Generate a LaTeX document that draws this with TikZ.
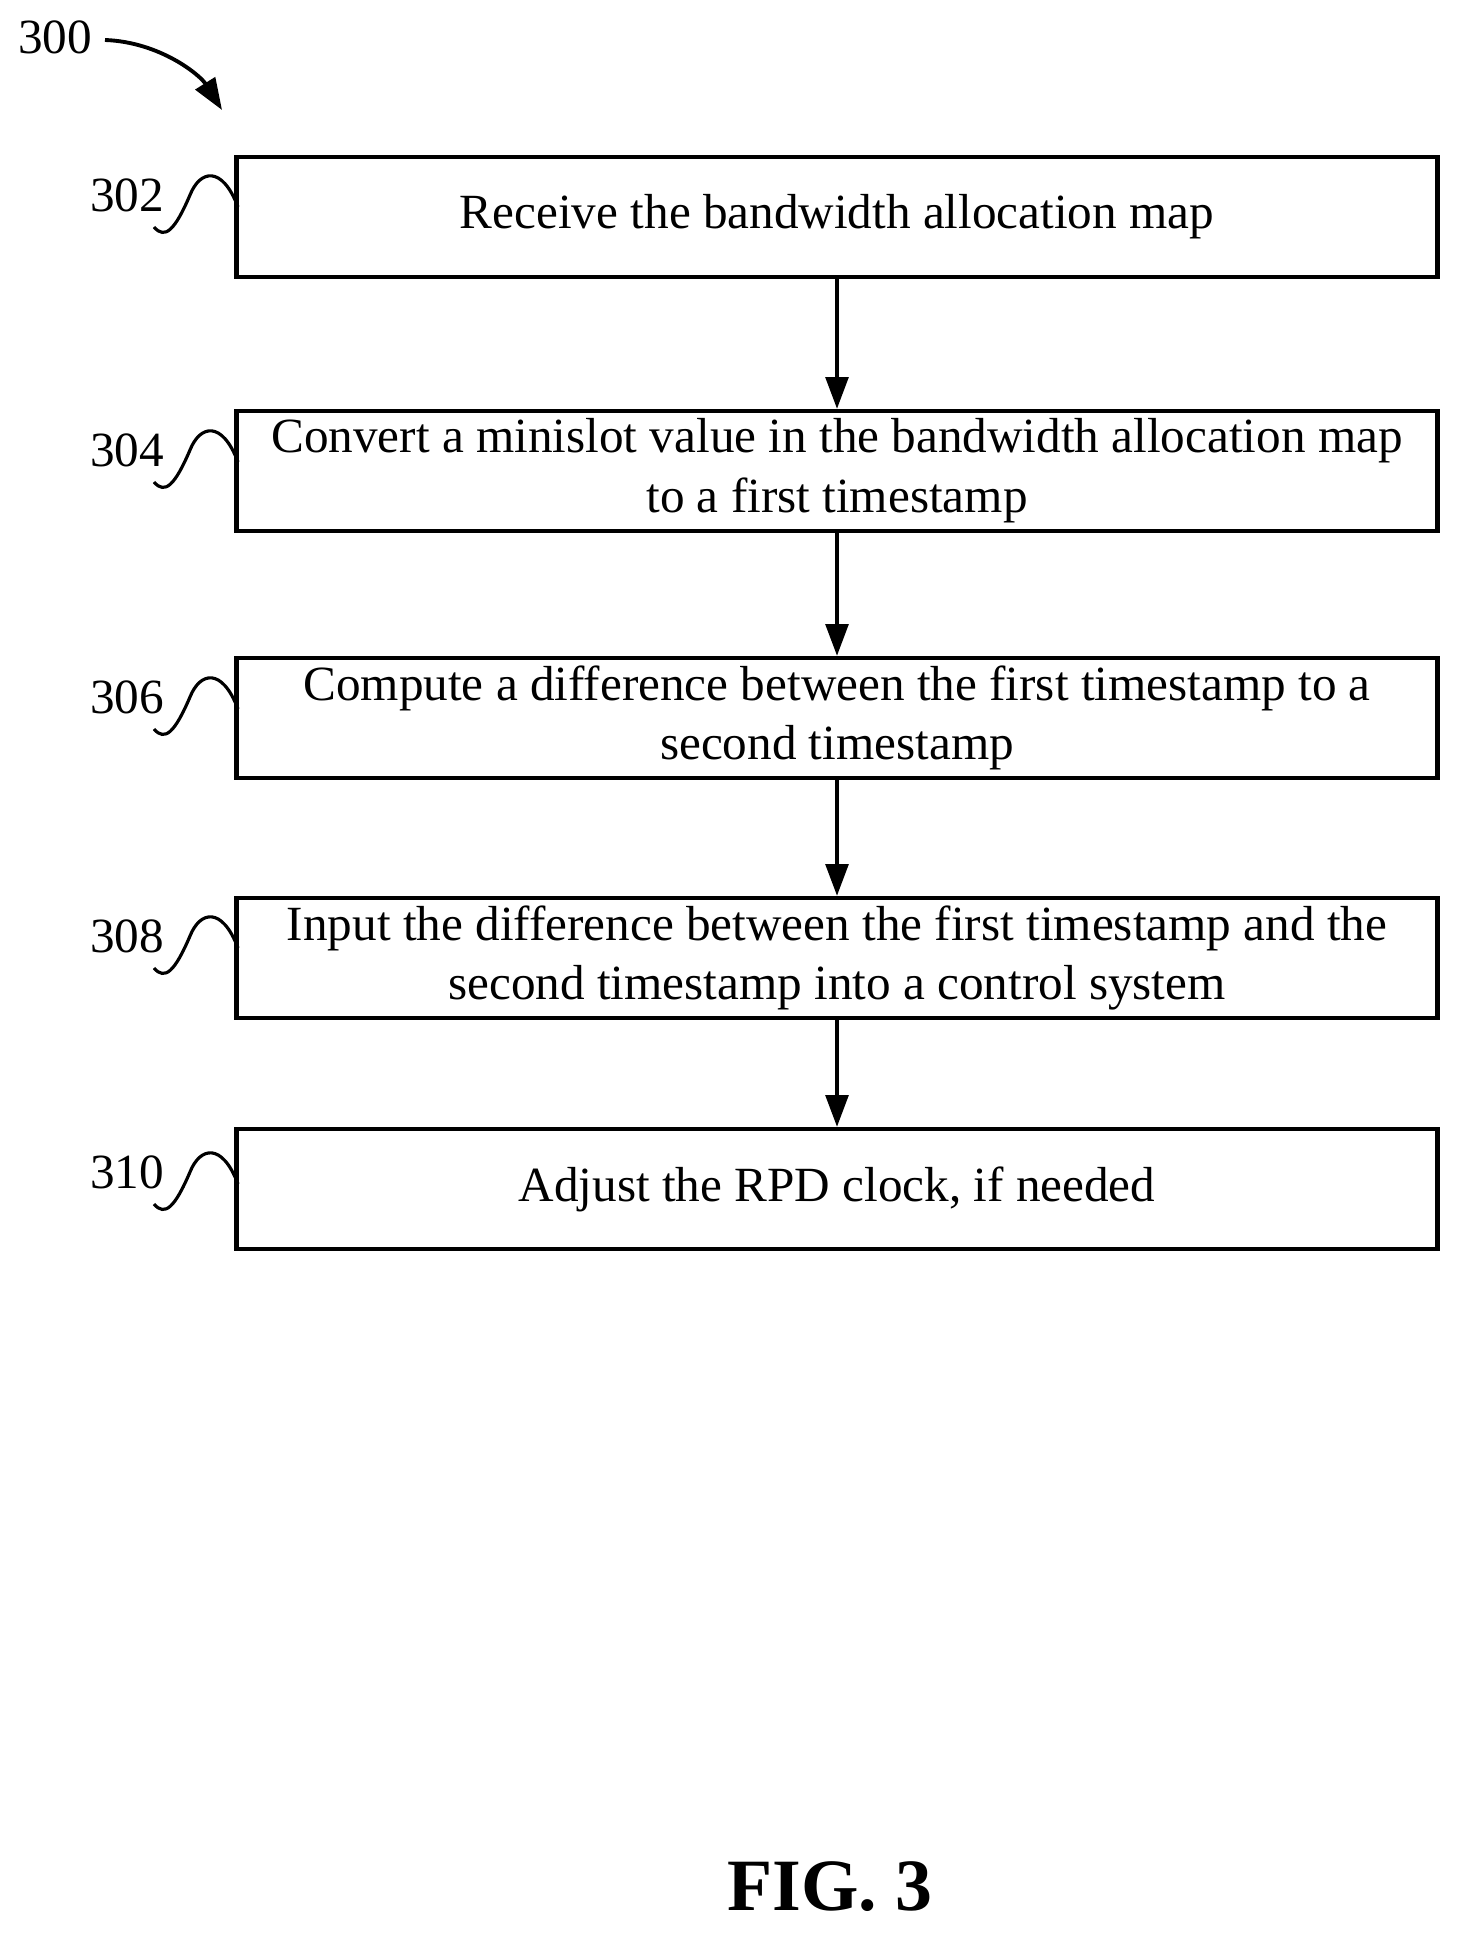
\documentclass[tikz,border=0pt]{standalone}
\usepackage{fontspec}
\setmainfont{Liberation Serif}
\usetikzlibrary{arrows.meta}
\begin{document}
\begin{tikzpicture}[x=0.02cm,y=-0.02cm,
 box/.style={draw,line width=2.6pt,minimum width=1201*0.02cm,minimum height=120*0.02cm,align=center,inner sep=0pt,font=\fontsize{28}{34}\selectfont},
 lab/.style={font=\fontsize{28}{34}\selectfont},
 arr/.style={-{Triangle[length=18pt,width=13pt]},line width=1.8pt},
 sq/.style={line width=1.8pt}]
\useasboundingbox (0,0) rectangle (1464,1942);
\node[box] (b1) at (837,217) {Receive the bandwidth allocation map};
\node[box] (b2) at (837,471) {Convert a minislot value in the bandwidth allocation map\\to a first timestamp};
\node[box] (b3) at (837,718) {Compute a difference between the first timestamp to a\\second timestamp};
\node[box] (b4) at (837,958) {Input the difference between the first timestamp and the\\second timestamp into a control system};
\node[box] (b5) at (837,1189) {Adjust the RPD clock, if needed};
\draw[arr] (b1) -- (b2);
\draw[arr] (b2) -- (b3);
\draw[arr] (b3) -- (b4);
\draw[arr] (b4) -- (b5);
\node[lab] (n300) at (55,37) {300};
\coordinate (a0) at (105,40);
\coordinate (a1) at (222,110);
\draw[arr,line width=2.2pt] (a0) .. controls (160,42) and (200,75) .. (a1);
\foreach \n/\y in {302/195,304/450,306/697,308/936,310/1172}{
 \node[lab] (l\n) at (127,\y) {\n};
 \coordinate (s\n) at (154,\y+32);
 \draw[sq] (s\n) .. controls (165,\y+45) and (175,\y+35) .. (190,\y)
   .. controls (200,\y-25) and (222,\y-30) .. (238,\y+12);
}
\node[font=\bfseries\fontsize{42}{48}\selectfont] (fig) at (830,1887) {FIG. 3};
\end{tikzpicture}
\end{document}
